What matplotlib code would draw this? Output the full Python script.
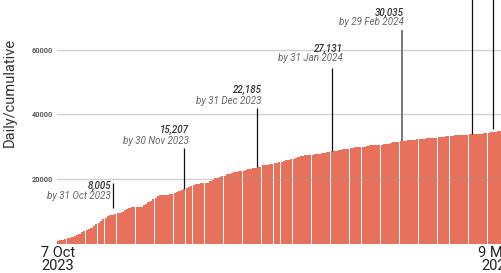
import matplotlib
matplotlib.use("Agg")
import matplotlib.pyplot as plt
from matplotlib import font_manager

# cumulative total per daily report, starting 7 Oct 2023
cumulative = [
    780, 950, 1150, 1400, 1600, 1800, 2100, 2350, 2600, 2950,
    3500, 3970, 4300, 4500, 4900, 5430, 5900, 6450, 7000, 7600,
    8000, 8500, 8700, 8900, 9150, 9400, 9600, 9860, 10300, 10700,
    11000, 11300, 11300, 11300, 11300, 11300, 11800, 12250, 12800, 13270,
    13800, 14200, 14600, 14940, 15035, 15035, 15035, 15200, 15350, 15600,
    15900, 16275, 16585, 16800, 17110, 17500, 17920, 18200, 18445, 18600,
    18755, 18755, 18755, 18755, 19470, 19800, 20210, 20400, 20600, 20800,
    21020, 21450, 21600, 21800, 22070, 22200, 22400, 22475, 22600, 22690,
    23000, 23150, 23310, 23500, 23650, 23810, 24240, 24300, 24400, 24550,
    24700, 24955, 25100, 25250, 25360, 25600, 25790, 25950, 26100, 26290,
    26600, 26910, 27100, 27220, 27300, 27400, 27435, 27550, 27650, 27745,
    27900, 28000, 28150, 28300, 28460, 28600, 28675, 28800, 28985, 29050,
    29150, 29295, 29400, 29550, 29700, 29820, 29900, 29950, 30000, 30010,
    30300, 30450, 30535, 30550, 30580, 30600, 30630, 30700, 30845, 31000,
    31250, 31350, 31450, 31560, 31650, 31775, 31850, 31950, 32050, 32085,
    32200, 32395, 32450, 32500, 32550, 32580, 32610, 32700, 32800, 32850,
    32950, 33015, 33100, 33200, 33325, 33400, 33450, 33540, 33580, 33600,
    33620, 33635, 33700, 33850, 33900, 33945, 34000, 34050, 34100, 34160,
    34250, 34350, 34450, 34550, 34660, 34750, 34875, 34900, 34950,
]

tick_pos = [0, 185]
tick_labels = ["7 Oct\n2023", "9 May\n2024"]

# month-end callouts
ann_values = ["8,005", "15,207", "22,185", "27,131", "30,035"]
ann_dates = ["by 31 Oct 2023", "by 30 Nov 2023", "by 31 Dec 2023",
             "by 31 Jan 2024", "by 29 Feb 2024"]
ann_line_x = [23.0, 52.9, 83.5, 115.0, 144.5]
ann_line_top = [18755, 29600, 42000, 54400, 66200]
ann_text_x = [22.2, 55.0, 85.6, 119.6, 145.3]
ann_text_y = [16900, 34250, 46650, 59350, 70500]
ann_sub_y = [13950, 30850, 43250, 56550, 67750]

# later callouts whose labels sit above the visible area
late_line_x = [173.8, 183.0, 186.4]
late_line_bottom = [33950, 35500, 33000]

names = {f.name for f in font_manager.fontManager.ttflist}
narrow = "Liberation Sans Narrow" in names
tick_font = "Liberation Sans Narrow" if narrow else "Roboto"
tick_size = 12.3 if narrow else 10.5

plt.rcParams["font.family"] = ["Roboto", "DejaVu Sans"]

fig = plt.figure(figsize=(5.02, 2.73), dpi=100)
ax = fig.add_axes([57 / 502, 29.5 / 273, 445 / 502, 243.5 / 273])

xs = list(range(len(cumulative)))
ax.bar(xs, cumulative, width=0.94, color="#E8715B", linewidth=0,
       antialiased=False, zorder=1)

ax.set_xlim(-0.5, 186.6)
ax.set_ylim(0, 75500)

ax.set_yticks([20000, 40000, 60000])
ax.set_yticklabels(["20000", "40000", "60000"])
ax.grid(axis="y", color="#999999", alpha=0.45, linewidth=1.0, zorder=2)
ax.set_axisbelow(False)
ax.tick_params(axis="y", length=0, pad=3, labelsize=5.3, labelcolor="#555555")
for t in ax.get_yticklabels():
    t.set_fontweight("bold")

ax.set_xticks(tick_pos)
ax.set_xticklabels(tick_labels, fontfamily=tick_font, fontsize=tick_size,
                   color="#222222", linespacing=0.95)
ax.tick_params(axis="x", length=0, pad=1.5)

ax.set_ylabel("Daily/cumulative", fontsize=10.5, color="#333333")
ax.yaxis.set_label_coords(-0.09, 0.62)

for s in ax.spines.values():
    s.set_visible(False)

for i in range(len(ann_values)):
    lx = ann_line_x[i]
    bottom = cumulative[round(lx)] if i > 0 else 11000
    color = "#777777" if i == len(ann_values) - 1 else "#111111"
    lw = 1.4 if i == len(ann_values) - 1 else 0.9
    ax.vlines(lx, bottom, ann_line_top[i], color=color, linewidth=lw, zorder=3)
    ax.text(ann_text_x[i], ann_text_y[i], ann_values[i], ha="right",
            va="baseline", fontsize=7, style="italic", fontweight="medium",
            color="#333333")
    ax.text(ann_text_x[i], ann_sub_y[i], ann_dates[i], ha="right",
            va="baseline", fontsize=7, style="italic", color="#666666")

for lx, b in zip(late_line_x, late_line_bottom):
    ax.vlines(lx, b, 80000, color="#111111", linewidth=0.9, zorder=3,
              clip_on=True)

fig.savefig("out.png", dpi=100)
